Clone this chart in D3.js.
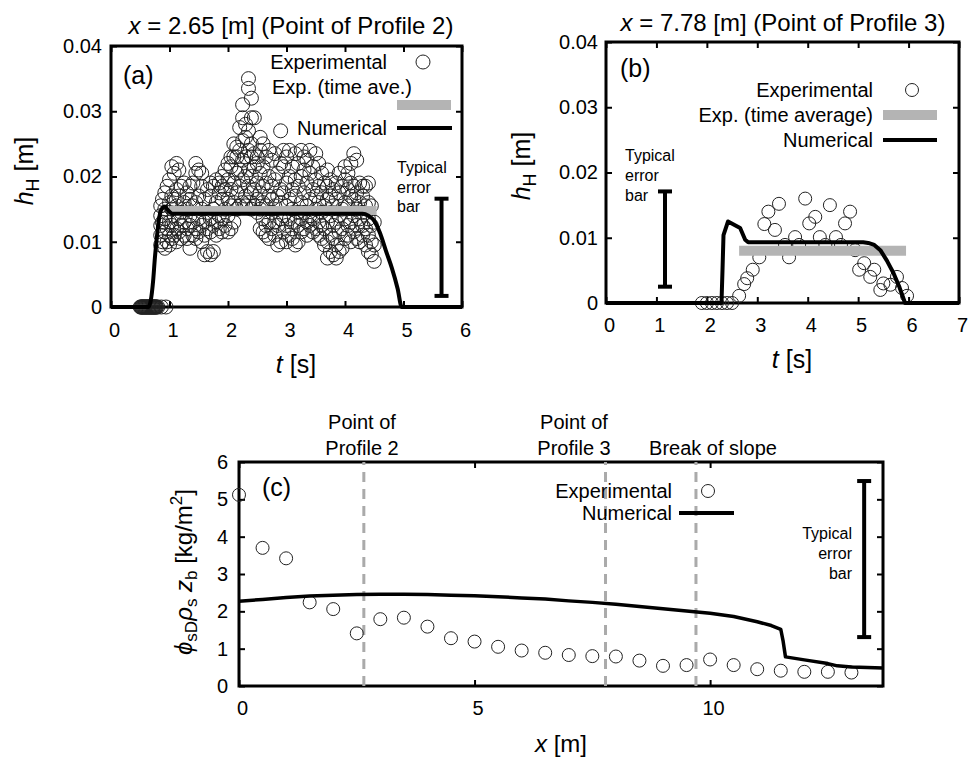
<!DOCTYPE html>
<html>
<head>
<meta charset="utf-8">
<script src="https://cdn.jsdelivr.net/npm/d3@7"></script>
<style>
  body { margin: 0; background: #fff; }
  svg { display: block; font-family: "Liberation Sans", Arial, Helvetica, sans-serif; }
</style>
</head>
<body>
<div id="chart"></div>
<script>
// Three panels: (a) h_H at x = 2.65 m, (b) h_H at x = 7.78 m, (c) deposit along x

// ---- panel (a) ----
// time [s], heights [mm]
const aZeroT = [0.50, 0.51, 0.52, 0.53, 0.54, 0.55, 0.56, 0.57, 0.58, 0.59, 0.60, 0.61, 0.62, 0.63, 0.64, 0.65, 0.66, 0.67,
  0.68, 0.69, 0.70, 0.71, 0.72, 0.73, 0.74, 0.75, 0.76, 0.77, 0.78, 0.80, 0.86, 0.94];
const aExpRows = [
  [0.85, [9.5, 11, 12.5, 14, 15.5]],
  [0.88, [10, 13, 16.5]],
  [0.92, [9, 11.5, 13.5, 15, 17.5]],
  [0.96, [10, 12, 14.5, 18.5]],
  [1.00, [9.5, 11, 13, 16, 19.5]],
  [1.04, [10.5, 12.5, 15, 17, 21.5]],
  [1.08, [11, 14, 16.5, 20.5]],
  [1.12, [10, 12, 15.5, 18, 22]],
  [1.16, [11.5, 13.5, 17, 21]],
  [1.20, [10.5, 12.5, 14.5, 18.5]],
  [1.25, [11, 13, 16, 19]],
  [1.30, [10.5, 12, 15, 17.5]],
  [1.35, [9, 12.5, 14, 16.5, 18.5]],
  [1.40, [11, 13, 15.5, 19]],
  [1.45, [10.5, 12, 16, 20.5, 22]],
  [1.50, [11.5, 13.5, 17, 21]],
  [1.55, [10, 12.5, 15, 18.5, 20.5]],
  [1.60, [8, 11, 13, 16.5]],
  [1.65, [8.5, 12, 14.5, 18]],
  [1.70, [8, 11.5, 13.5, 17, 19]],
  [1.75, [8.5, 12.5, 15, 18.5]],
  [1.80, [11, 13, 16, 19.5]],
  [1.85, [12, 14, 17.5, 19]],
  [1.90, [11.5, 13.5, 16.5, 18.5, 20]],
  [1.95, [12.5, 15, 18, 21]],
  [2.00, [11.5, 14, 16.5, 19.5, 22]],
  [2.05, [12, 15.5, 18, 21.5, 23]],
  [2.10, [13, 16, 19, 23, 25]],
  [2.15, [15, 17.5, 20.5, 23, 24.5]],
  [2.20, [15.5, 18.5, 21, 24, 27.5]],
  [2.25, [16, 19.5, 22.5, 25.5, 29, 31]],
  [2.30, [15.5, 17, 20, 23, 26, 28]],
  [2.35, [16, 18.5, 21, 24, 27, 33.5, 35]],
  [2.40, [15, 17.5, 20, 23, 25, 29, 32]],
  [2.45, [15.5, 18, 21.5, 23.5, 29]],
  [2.50, [14.5, 16.5, 19, 22, 23]],
  [2.55, [12, 15, 17.5, 20.5, 24, 26]],
  [2.60, [11.5, 13.5, 16, 18.5, 21.5, 25]],
  [2.65, [11, 12.5, 15.5, 19, 23]],
  [2.70, [10.5, 13, 17, 20, 24]],
  [2.75, [12, 14.5, 16.5, 18.5, 22.5]],
  [2.80, [11, 13, 15.5, 19.5, 23.5]],
  [2.85, [9.5, 12.5, 17, 20.5]],
  [2.90, [10, 13.5, 16, 18, 22, 27]],
  [2.95, [11.5, 14, 17.5, 21.5, 24]],
  [3.00, [10, 12.5, 15.5, 19, 23]],
  [3.05, [11, 13.5, 16.5, 20, 24]],
  [3.10, [10.5, 12, 15, 18, 21.5]],
  [3.15, [9.5, 13, 17, 19.5, 23.5]],
  [3.20, [10, 12.5, 14.5, 18.5, 22]],
  [3.25, [11.5, 13.5, 16, 20, 24]],
  [3.30, [12, 14.5, 17.5, 21, 23]],
  [3.35, [11, 13, 15.5, 19, 22.5]],
  [3.40, [12.5, 14, 16.5, 20.5, 24]],
  [3.45, [11.5, 13.5, 18, 21.5]],
  [3.50, [12, 15, 17, 19.5, 23.5]],
  [3.55, [11, 13, 16, 18.5, 22]],
  [3.60, [10.5, 12.5, 14.5, 17.5, 20.5]],
  [3.65, [9.5, 12, 15.5, 19]],
  [3.70, [7.5, 10, 13, 16.5, 18.5, 21]],
  [3.75, [8.5, 11, 14, 17, 19.5]],
  [3.80, [8, 10.5, 12.5, 15.5, 18]],
  [3.85, [7.5, 9.5, 13, 16.5, 19]],
  [3.90, [8.5, 11.5, 14, 17.5, 20.5]],
  [3.95, [9, 12, 15, 18.5]],
  [4.00, [10.5, 13.5, 16, 19.5, 21.5]],
  [4.05, [11, 12.5, 15.5, 18, 20.5]],
  [4.10, [10, 13, 17, 19, 22]],
  [4.15, [11.5, 14, 16.5, 18.5, 23.5]],
  [4.20, [10.5, 12.5, 15, 17.5, 22.5]],
  [4.25, [10, 13.5, 16, 19]],
  [4.30, [11, 12.5, 14.5, 17, 18.5]],
  [4.35, [9.5, 12, 15.5, 18.5]],
  [4.40, [8.5, 11, 13.5, 16, 19]],
  [4.45, [8, 10, 12.5, 15.5]],
  [4.50, [7, 9.5, 13]]
];
const aAveT = [1.0, 4.54];
const aAveH = [14.8, 14.8];
const aNumT = [0, 0.64, 0.68, 0.72, 0.75, 0.78, 0.81, 0.84, 0.88, 0.92, 0.96, 1.0, 1.05, 1.1, 4.3, 4.4, 4.5, 4.6, 4.7, 4.8, 4.9, 4.97, 6];
const aNumH = [0, 0, 1.0, 4.0, 7.5, 10.3, 12.8, 14.4, 15.2, 15.4, 15.0, 14.6, 14.3, 14.3, 14.3, 14.0, 13.2, 11.3, 8.6, 6.0, 2.8, 0, 0];
const aErrT = 5.65, aErrH = [1.7, 16.6];

// ---- panel (b) ----
const bExpT = [1.9, 2.0, 2.1, 2.2, 2.3, 2.4, 2.5, 2.64, 2.74, 2.8, 2.91, 3.04, 3.14, 3.22, 3.35, 3.43, 3.55, 3.63, 3.75, 3.83,
  3.95, 4.03, 4.15, 4.24, 4.35, 4.44, 4.56, 4.66, 4.74, 4.84, 4.94, 5.02, 5.12, 5.24, 5.32, 5.44, 5.5, 5.64, 5.77, 5.87, 5.97];
const bExpH = [0, 0, 0, 0, 0, 0, 0, 1.1, 2.9, 3.8, 5.1, 7.0, 12.1, 14.0, 11.2, 15.2, 8.9, 7.0, 10.1, 8.9,
  16.0, 12.2, 13.2, 10.1, 8.9, 15.0, 10.1, 8.9, 12.2, 14.0, 8.1, 5.1, 6.1, 4.0, 5.1, 2.0, 3.0, 2.8, 4.0, 2.3, 1.1];
const bAveT = [2.64, 5.95];
const bAveH = [8.0, 8.0];
const bNumT = [0, 2.29, 2.31, 2.33, 2.42, 2.66, 2.76, 2.82, 5.1, 5.2, 5.32, 5.44, 5.57, 5.7, 5.82, 5.93, 7];
const bNumH = [0, 0, 5, 10.4, 12.5, 11.5, 9.7, 9.3, 9.3, 9.2, 8.9, 8.1, 6.5, 4.6, 2.4, 0, 0];
const bErrT = 1.17, bErrH = [2.5, 17.1];

// ---- panel (c) ----
const cExpX = [0, 0.5, 1, 1.5, 2, 2.5, 3, 3.5, 4, 4.5, 5, 5.5, 6, 6.5, 7, 7.5, 8, 8.5, 9, 9.5, 10, 10.5, 11, 11.5, 12, 12.5, 13];
const cExpY = [5.12, 3.7, 3.42, 2.24, 2.06, 1.41, 1.79, 1.83, 1.59, 1.28, 1.19, 1.05, 0.95, 0.89, 0.83, 0.8, 0.79, 0.68, 0.54, 0.56, 0.71, 0.56, 0.45, 0.41, 0.38, 0.38, 0.36];
const cNumX = [0, 0.5, 1, 1.5, 2, 2.5, 3, 3.5, 4, 4.5, 5, 5.5, 6, 6.5, 7, 7.5, 8, 8.5, 9, 9.5, 10, 10.5, 11, 11.3, 11.5, 11.55, 11.6, 12.0, 12.5, 12.7, 13.0, 13.67];
const cNumY = [2.27, 2.32, 2.37, 2.41, 2.43, 2.45, 2.46, 2.46, 2.45, 2.43, 2.42, 2.39, 2.36, 2.33, 2.28, 2.24, 2.19, 2.13, 2.07, 2.01, 1.95, 1.86, 1.72, 1.62, 1.52, 1.2, 0.78, 0.7, 0.6, 0.54, 0.51, 0.48];
const cMarks = [2.65, 7.78, 9.7];
const cErrX = 13.27, cErrY = [1.31, 5.49];

const GRAY = '#b4b4b4';
const svg = d3.select('#chart').append('svg').attr('width', 978).attr('height', 760);

// scales (ranges are the plot frames in the page)
const xa = d3.scaleLinear().domain([0, 6]).range([111, 462]);
const ya = d3.scaleLinear().domain([0, 0.04]).range([307, 46]);
const xb = d3.scaleLinear().domain([0, 7]).range([606, 959]);
const yb = d3.scaleLinear().domain([0, 0.04]).range([303, 42]);
const xc = d3.scaleLinear().domain([0, 13.67]).range([239, 883]);
const yc = d3.scaleLinear().domain([0, 6]).range([686, 462]);

function frame(x, y, xt, yt, yFmt, pads) {
  const g = svg.append('g');
  const [x0, x1] = x.range(), [y0, y1] = y.range();
  const fix = sel => {
    sel.attr('font-size', 20).attr('font-family', null);
    sel.select('.domain').remove();
    sel.selectAll('.tick line').attr('stroke', '#000').attr('stroke-width', 2);
  };
  g.append('g').attr('transform', `translate(0,${y0})`)
    .call(d3.axisBottom(x).tickValues(xt).tickSize(-6).tickPadding(pads[0]).tickFormat(d3.format('d')))
    .call(fix)
    .selectAll('.tick text').attr('dx', 3).attr('fill', '#000');
  g.append('g').attr('transform', `translate(0,${y1})`)
    .call(d3.axisTop(x).tickValues(xt).tickSize(-6).tickFormat(''))
    .call(fix);
  g.append('g').attr('transform', `translate(${x0},0)`)
    .call(d3.axisLeft(y).tickValues(yt).tickSize(-6).tickPadding(pads[1]).tickFormat(yFmt))
    .call(fix)
    .selectAll('.tick text').attr('fill', '#000');
  g.append('g').attr('transform', `translate(${x1},0)`)
    .call(d3.axisRight(y).tickValues(yt).tickSize(-6).tickFormat(''))
    .call(fix);
  g.append('rect')
    .attr('x', x0).attr('y', y1).attr('width', x1 - x0).attr('height', y0 - y1)
    .attr('fill', 'none').attr('stroke', '#000').attr('stroke-width', 3);
  return g;
}

function circles(data, x, y, r) {
  svg.append('g').selectAll('circle')
    .data(data)
    .enter()
    .append('circle')
    .attr('cx', d => x(d[0]))
    .attr('cy', d => y(d[1]))
    .attr('r', r)
    .attr('fill', 'none')
    .attr('stroke', '#222')
    .attr('stroke-width', 1);
}

function path(data, x, y, opts) {
  const line = d3.line().x(d => x(d[0])).y(d => y(d[1])).curve(opts.curve || d3.curveLinear);
  svg.append('path')
    .attr('d', line(data))
    .attr('fill', 'none')
    .attr('stroke', opts.color)
    .attr('stroke-width', opts.width)
    .attr('stroke-linejoin', 'round')
    .attr('stroke-dasharray', opts.dash || null);
}

function text(x, y, str, opts = {}) {
  return svg.append('text')
    .attr('x', x).attr('y', y)
    .attr('font-size', opts.size || 20)
    .attr('text-anchor', opts.anchor || 'start')
    .attr('fill', '#000')
    .html(str);
}

function errorBar(px, py0, py1) {
  const g = svg.append('g').attr('stroke', '#000').attr('stroke-width', 4);
  g.append('line').attr('x1', px).attr('x2', px).attr('y1', py0).attr('y2', py1);
  g.append('line').attr('x1', px - 7).attr('x2', px + 7).attr('y1', py0).attr('y2', py0);
  g.append('line').attr('x1', px - 7).attr('x2', px + 7).attr('y1', py1).attr('y2', py1);
}

function legendCircle(cx, cy, r) {
  svg.append('circle').attr('cx', cx).attr('cy', cy).attr('r', r)
    .attr('fill', 'none').attr('stroke', '#222').attr('stroke-width', 1);
}

function legendLine(x0, x1, yy, color, w) {
  svg.append('line').attr('x1', x0).attr('x2', x1).attr('y1', yy).attr('y2', yy)
    .attr('stroke', color).attr('stroke-width', w);
}

const fmtH = d => d === 0 ? '0' : d.toFixed(2);
const mm = v => v / 1000;

// ================= panel (a) =================
frame(xa, ya, d3.range(0, 7), [0, 0.01, 0.02, 0.03, 0.04], fmtH, [16, 9]);

const aExp = aExpRows.flatMap(([t, hs]) => hs.map(h => [t, mm(h)]));
circles(aZeroT.map(t => [t, 0]), xa, ya, 7);
circles(aExp, xa, ya, 7);
path(aAveT.map((t, i) => [t, mm(aAveH[i])]), xa, ya, { color: GRAY, width: 9 });
path(aNumT.map((t, i) => [t, mm(aNumH[i])]), xa, ya, { color: '#000', width: 4, curve: d3.curveMonotoneX });
errorBar(xa(aErrT), ya(mm(aErrH[1])), ya(mm(aErrH[0])));

text(291, 34, '<tspan font-style="italic">x</tspan> = 2.65 [m] (Point of Profile 2)', { size: 24, anchor: 'middle' });
text(123, 84, '(a)', { size: 25 });
text(387, 69, 'Experimental', { anchor: 'end' });
legendCircle(423, 62, 7);
text(412, 94, 'Exp. (time ave.)', { anchor: 'end' });
legendLine(397, 451, 105, GRAY, 10);
text(387, 135, 'Numerical', { anchor: 'end' });
legendLine(397, 452, 128, '#000', 4);
text(397, 173, 'Typical', { size: 16 });
text(397, 193, 'error', { size: 16 });
text(397, 212, 'bar', { size: 16 });
text(296, 373, '<tspan font-style="italic">t</tspan> [s]', { size: 25, anchor: 'middle' });
text(0, 0, '<tspan font-style="italic">h</tspan><tspan font-size="18" dy="6">H</tspan><tspan dy="-6"> [m]</tspan>', { size: 25, anchor: 'middle' })
  .attr('transform', 'translate(33,171) rotate(-90)');

// ================= panel (b) =================
frame(xb, yb, d3.range(0, 8), [0, 0.01, 0.02, 0.03, 0.04], fmtH, [15, 8]);

circles(bExpT.map((t, i) => [t, mm(bExpH[i])]), xb, yb, 6.5);
path(bAveT.map((t, i) => [t, mm(bAveH[i])]), xb, yb, { color: GRAY, width: 10 });
path(bNumT.map((t, i) => [t, mm(bNumH[i])]), xb, yb, { color: '#000', width: 4 });
errorBar(xb(bErrT), yb(mm(bErrH[1])), yb(mm(bErrH[0])));

text(783, 31, '<tspan font-style="italic">x</tspan> = 7.78 [m] (Point of Profile 3)', { size: 24, anchor: 'middle' });
text(620, 77, '(b)', { size: 25 });
text(873, 97, 'Experimental', { anchor: 'end' });
legendCircle(912, 90, 6.5);
text(873, 122, 'Exp. (time average)', { anchor: 'end' });
legendLine(883, 937, 115, GRAY, 10);
text(873, 147, 'Numerical', { anchor: 'end' });
legendLine(883, 937, 140, '#000', 4);
text(625, 161, 'Typical', { size: 16 });
text(625, 181, 'error', { size: 16 });
text(625, 201, 'bar', { size: 16 });
text(792, 368, '<tspan font-style="italic">t</tspan> [s]', { size: 25, anchor: 'middle' });
text(0, 0, '<tspan font-style="italic">h</tspan><tspan font-size="18" dy="6">H</tspan><tspan dy="-6"> [m]</tspan>', { size: 25, anchor: 'middle' })
  .attr('transform', 'translate(530,166) rotate(-90)');

// ================= panel (c) =================
frame(xc, yc, [0, 5, 10], d3.range(0, 7), d3.format('d'), [15, 11]);

cMarks.forEach(m => path([[m, 0], [m, 6]], xc, yc, { color: '#aaa', width: 3, dash: '10,7' }));
circles(cExpX.map((v, i) => [v, cExpY[i]]), xc, yc, 6.5);
path(cNumX.map((v, i) => [v, cNumY[i]]), xc, yc, { color: '#000', width: 3.5 });
errorBar(xc(cErrX), yc(cErrY[1]), yc(cErrY[0]));

text(362, 429, 'Point of', { anchor: 'middle' });
text(362, 455, 'Profile 2', { anchor: 'middle' });
text(574, 429, 'Point of', { anchor: 'middle' });
text(574, 455, 'Profile 3', { anchor: 'middle' });
text(713, 455, 'Break of slope', { anchor: 'middle' });
text(262, 496, '(c)', { size: 25 });
text(672, 498, 'Experimental', { anchor: 'end' });
legendCircle(708, 491, 6.5);
text(672, 520, 'Numerical', { anchor: 'end' });
legendLine(679, 734, 513, '#000', 4);
text(852, 539, 'Typical', { size: 16, anchor: 'end' });
text(852, 559, 'error', { size: 16, anchor: 'end' });
text(852, 579, 'bar', { size: 16, anchor: 'end' });
text(561, 752, '<tspan font-style="italic">x</tspan> [m]', { size: 24, anchor: 'middle' });
text(0, 0,
  '<tspan font-style="italic">ϕ</tspan><tspan font-size="17" dy="5">sD</tspan>' +
  '<tspan font-style="italic" dy="-5">ρ</tspan><tspan font-size="17" dy="5">s</tspan>' +
  '<tspan font-style="italic" dy="-5"> z</tspan><tspan font-size="17" dy="5">b</tspan>' +
  '<tspan dy="-5"> [kg/m</tspan><tspan font-size="17" dy="-10">2</tspan><tspan dy="10">]</tspan>',
  { size: 24, anchor: 'middle' })
  .attr('transform', 'translate(192,572) rotate(-90)');
</script>
</body>
</html>
